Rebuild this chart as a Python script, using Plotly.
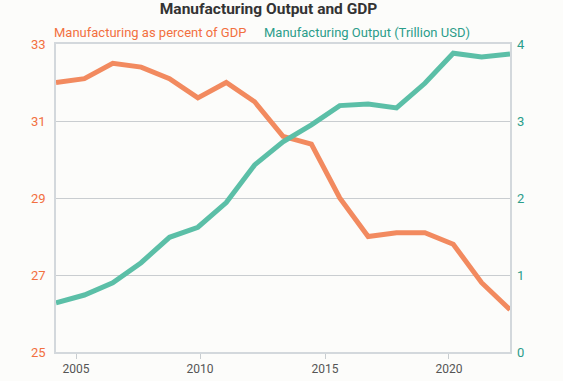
import plotly.graph_objects as go

years = list(range(2004, 2021))
pct_gdp = [32.0, 32.1, 32.5, 32.4, 32.1, 31.6, 32.0, 31.5, 30.6, 30.4, 29.0, 28.0, 28.1, 28.1, 27.8, 26.8, 26.1]
output_tn = [0.64, 0.74, 0.90, 1.16, 1.49, 1.62, 1.94, 2.43, 2.73, 2.95, 3.20, 3.22, 3.17, 3.49, 3.88, 3.83, 3.87]
tick_pos = [2004.705, 2009.075, 2013.48, 2017.85]
tick_text = ["2005", "2010", "2015", "2020"]
left_ticks = [25, 27, 29, 31, 33]
right_ticks = [0, 1, 2, 3, 4]

ORANGE_LINE = "#f28a5f"
TEAL_LINE = "#5bbfa7"
ORANGE_TXT = "#f2703f"
TEAL_TXT = "#2b9d8a"
FRAME = "#d3d8dc"
FONT = "Roboto"

fig = go.Figure()
fig.add_trace(go.Scatter(x=years, y=pct_gdp, mode="lines",
                         line=dict(color=ORANGE_LINE, width=5), yaxis="y", showlegend=False))
fig.add_trace(go.Scatter(x=years, y=output_tn, mode="lines",
                         line=dict(color=TEAL_LINE, width=5), yaxis="y2", showlegend=False))

fig.update_layout(
    width=563, height=381,
    margin=dict(l=56, r=53, t=44, b=29, autoexpand=False),
    paper_bgcolor="#fcfcfa", plot_bgcolor="#fcfcfa",
    font=dict(family=FONT, size=12, color="#555"),
    title=dict(text="<b>Manufacturing Output and GDP</b>", x=0.477, xanchor="center",
               y=0.978, yanchor="middle", font=dict(family=FONT, size=15.5, color="#333")),
    xaxis=dict(range=[2004, 2020], tickvals=tick_pos, ticktext=tick_text, automargin=False,
               showgrid=False, zeroline=False, showline=True, linecolor=FRAME, linewidth=1.5,
               mirror=True, ticks="outside", ticklen=5, tickcolor="#c8cdd0",
               tickfont=dict(family=FONT, size=12, color="#555")),
    yaxis=dict(range=[25, 33], tickvals=left_ticks, showgrid=True, gridcolor="#c9cdd0",
               automargin=False, zeroline=False, showline=True, linecolor=FRAME, linewidth=1.5,
               mirror=True, ticks="", ticklabelstandoff=6,
               tickfont=dict(family=FONT, size=13, color=ORANGE_TXT)),
    yaxis2=dict(range=[0, 4], tickvals=right_ticks, overlaying="y", side="right",
                automargin=False, showgrid=False, zeroline=False, showline=False, ticks="",
                ticklabelstandoff=6,
                tickfont=dict(family=FONT, size=13, color=TEAL_TXT)),
    annotations=[
        dict(text="Manufacturing as percent of GDP", xref="paper", yref="paper",
             x=-0.008, y=1.0, xanchor="left", yanchor="bottom", yshift=2, showarrow=False,
             font=dict(family=FONT, size=13, color=ORANGE_TXT)),
        dict(text="Manufacturing Output (Trillion USD)", xref="paper", yref="paper",
             x=0.917, y=1.0, xanchor="right", yanchor="bottom", yshift=2, showarrow=False,
             font=dict(family=FONT, size=13, color=TEAL_TXT)),
    ],
)

fig.write_html("out.html")
